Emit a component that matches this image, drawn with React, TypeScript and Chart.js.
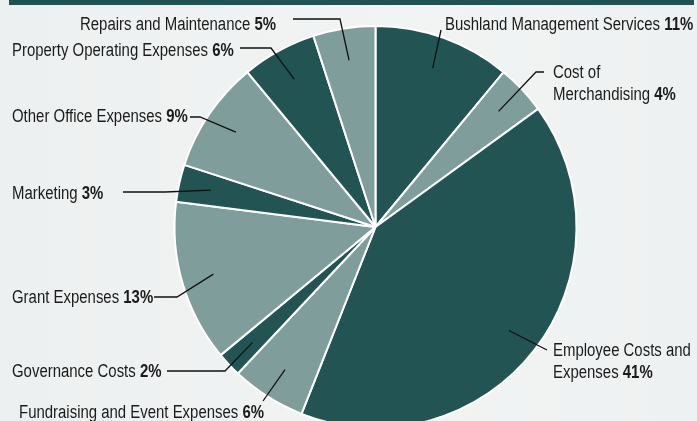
import React, { useEffect, useRef } from "react";
import { Chart, registerables } from "chart.js";

Chart.register(...registerables);

// ---- data ----
const categories = [
  "Bushland Management Services",
  "Cost of Merchandising",
  "Employee Costs and Expenses",
  "Fundraising and Event Expenses",
  "Governance Costs",
  "Grant Expenses",
  "Marketing",
  "Other Office Expenses",
  "Property Operating Expenses",
  "Repairs and Maintenance",
];
const shares = [11, 4, 41, 6, 2, 13, 3, 9, 6, 5];
const labelLines = [
  ["Bushland Management Services"],
  ["Cost of", "Merchandising"],
  ["Employee Costs and", "Expenses"],
  ["Fundraising and Event Expenses"],
  ["Governance Costs"],
  ["Grant Expenses"],
  ["Marketing"],
  ["Other Office Expenses"],
  ["Property Operating Expenses"],
  ["Repairs and Maintenance"],
];

// ---- styles / layout ----
const DARK = "#225453";
const LIGHT = "#7f9e9b";
const sliceColors = shares.map((_, i) => (i % 2 === 0 ? DARK : LIGHT));
const FONT_FAMILY = '"Liberation Sans", Arial, sans-serif';
const FONT_SIZE = 18;
const CONDENSE = 0.83;
const LINE_GAP = 22;
// text start x, first baseline y, leader path (from elbow to end)
const labelLayout = [
  { x: 445, y: 30, path: [[441, 30]] },
  { x: 553, y: 78, path: [[536, 72], [544, 72]] },
  { x: 553, y: 356, path: [[547, 350]] },
  { x: 19, y: 418, path: [[263, 401]] },
  { x: 12, y: 377, path: [[225, 371], [167, 371]] },
  { x: 12, y: 303, path: [[177, 297], [154, 297]] },
  { x: 12, y: 199, path: [[165, 192], [123, 192]] },
  { x: 12, y: 122, path: [[200, 117], [190, 117]] },
  { x: 12, y: 56, path: [[271, 48], [240, 48]] },
  { x: 80, y: 30, path: [[340, 19], [293, 19]] },
];

const labelPlugin = {
  id: "leaderLabels",
  afterDatasetsDraw(chart: any) {
    const ctx = chart.ctx as CanvasRenderingContext2D;
    const meta = chart.getDatasetMeta(0);
    ctx.save();
    meta.data.forEach((arc: any, i: number) => {
      const p = arc.getProps(["x", "y", "startAngle", "endAngle", "outerRadius"], true);
      const mid = (p.startAngle + p.endAngle) / 2;
      const ax = p.x + Math.cos(mid) * p.outerRadius * 0.84;
      const ay = p.y + Math.sin(mid) * p.outerRadius * 0.84;
      const lay = labelLayout[i];
      ctx.strokeStyle = "#111111";
      ctx.lineWidth = 1.3;
      ctx.beginPath();
      ctx.moveTo(ax, ay);
      lay.path.forEach((pt) => ctx.lineTo(pt[0], pt[1]));
      ctx.stroke();

      const lines = labelLines[i];
      ctx.fillStyle = "#1b1b1b";
      ctx.textBaseline = "alphabetic";
      ctx.textAlign = "left";
      lines.forEach((ln, j) => {
        const y = lay.y + j * LINE_GAP;
        ctx.save();
        ctx.translate(lay.x, y);
        ctx.scale(CONDENSE, 1);
        ctx.font = `${FONT_SIZE}px ${FONT_FAMILY}`;
        ctx.fillText(ln, 0, 0);
        if (j === lines.length - 1) {
          const w = ctx.measureText(ln + " ").width;
          ctx.font = `bold ${FONT_SIZE}px ${FONT_FAMILY}`;
          ctx.fillText(`${shares[i]}%`, w, 0);
        }
        ctx.restore();
      });
    });
    ctx.restore();
  },
};

export default function App() {
  const ref = useRef<HTMLCanvasElement>(null);
  useEffect(() => {
    if (!ref.current) return;
    const chart = new Chart(ref.current, {
      type: "pie",
      data: {
        labels: categories,
        datasets: [
          {
            data: shares,
            backgroundColor: sliceColors,
            borderColor: "#ffffff",
            borderWidth: 2,
          },
        ],
      },
      options: {
        responsive: false,
        animation: false,
        devicePixelRatio: 1,
        layout: { padding: { left: 173.5, right: 119.5, top: 25, bottom: 11 } },
        plugins: { legend: { display: false }, tooltip: { enabled: false } },
      },
      plugins: [labelPlugin],
    });
    return () => chart.destroy();
  }, []);
  return (
    <div
      style={{
        position: "absolute",
        left: 0,
        top: 0,
        width: 697,
        height: 421,
        overflow: "hidden",
        background: "linear-gradient(90deg, #edf0f0 0%, #f2f4f4 60%, #eef1f1 100%)",
      }}
    >
      <div
        style={{
          position: "absolute",
          left: 9,
          top: 0,
          width: 685,
          height: 5,
          background: "#1f5250",
        }}
      />
      <canvas ref={ref} width={697} height={440} style={{ width: 697, height: 440, display: "block" }} />
    </div>
  );
}
